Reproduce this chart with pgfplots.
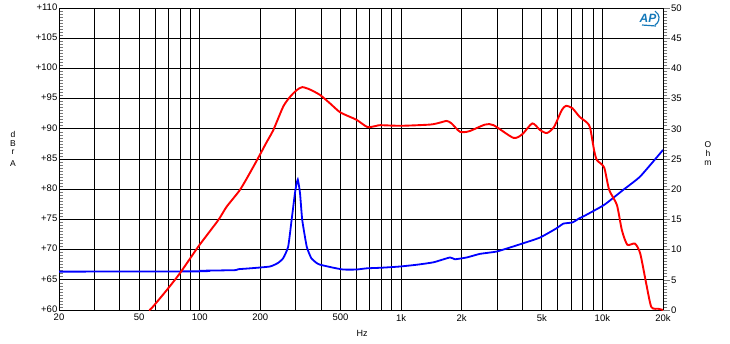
\documentclass[border=0pt]{standalone}
\usepackage{pgfplots}
\pgfplotsset{compat=1.18}
\usepackage{fontspec}
\setmainfont{Liberation Sans}
\definecolor{apred}{RGB}{255,0,0}
\definecolor{apblue}{RGB}{0,0,255}
\definecolor{logoblue}{RGB}{20,120,185}
\definecolor{tickgrey}{RGB}{120,120,120}

\pgfplotstableread{
f db
56 60
57.7 60.3
68.6 63.3
79.8 66.1
98.4 70.5
123.7 74.9
136 77.1
158.5 79.9
181 83.2
199 85.7
215 87.8
232 89.8
260 93.7
281 95.3
303 96.4
323 96.9
353 96.5
396 95.6
444 94.2
500 92.7
600 91.5
680 90.3
757 90.5
787 90.6
1000 90.5
1394 90.7
1550 91.0
1686 91.3
1780 90.9
1964 89.5
2180 89.6
2614 90.7
2880 90.6
3614 88.5
4000 89.1
4488 90.9
4900 89.8
5300 89.3
5750 90.3
6285 93.1
6600 93.8
7100 93.4
7700 92.0
8400 91.0
8700 90.1
9100 86.4
9400 84.8
10200 83.6
10800 79.9
11800 77.4
12500 73.2
13300 70.8
14500 71.0
15400 69.4
16500 64.4
17500 60.5
19000 60.2
20000 60.0
}\redtab

\pgfplotstableread{
f ohm
20 6.35
100 6.4
102 6.5
150 6.6
155 6.75
178 6.9
223 7.2
245 7.8
260 8.6
275 10.5
286 14.9
297 19.3
303 21.0
307 21.6
311 20.6
315 19.3
323 14.9
340 10.5
358 8.6
380 7.8
396 7.5
461 7.0
517 6.7
600 6.7
676 6.9
800 7.0
988 7.2
1200 7.5
1450 7.9
1750 8.7
1850 8.4
2120 8.7
2470 9.3
3000 9.7
4000 11.0
4900 12.0
5900 13.5
6400 14.3
7100 14.5
7700 15.2
8050 15.5
10200 17.4
12700 19.9
15400 22.1
20000 26.5
}\bluetab

\begin{document}
\begin{tikzpicture}
\path[use as bounding box] (0,0) rectangle (730pt,343pt);

% Axis A: dB axis with grid
\begin{semilogxaxis}[
  at={(59pt,33pt)}, anchor=south west,
  width=604pt, height=302pt, scale only axis,
  xmin=20, xmax=20000,
  ymin=60, ymax=110,
  tick label style={font=\fontsize{9.5}{10}\selectfont},
  xtick={20,50,100,200,500,1000,2000,5000,10000,20000},
  xticklabels={20,50,100,200,500,1k,2k,5k,10k,20k},
  minor xtick={30,40,60,70,80,90,300,400,600,700,800,900,3000,4000,6000,7000,8000,9000},
  xmajorgrids, xminorgrids, ymajorgrids,
  major grid style={black, line width=0.8pt},
  minor grid style={black, line width=0.8pt},
  xtick style={draw=none},
  xticklabel style={inner sep=0.5pt, yshift=-3.5pt},
  ytick={60,65,...,110},
  yticklabels={+60,+65,+70,+75,+80,+85,+90,+95,+100,+105,+110},
  ytick pos=left,
  minor y tick num=9,
  tick align=inside,
  minor tick length=4pt,
  major tick length=0pt,
  ytick style={tickgrey, line width=0.6pt},
  yticklabel style={inner sep=0.5pt, xshift=-1pt, yshift=1pt},
  axis line style={black, line width=0.8pt},
]
\addplot[draw=none] coordinates {(20,60)};
\end{semilogxaxis}

% Axis B: Ohm axis, blue impedance
\begin{semilogxaxis}[
  at={(59pt,33pt)}, anchor=south west,
  width=604pt, height=302pt, scale only axis,
  xmin=20, xmax=20000,
  ymin=0, ymax=50,
  tick label style={font=\fontsize{9.5}{10}\selectfont},
  axis y line*=right,
  axis x line=none,
  ytick={0,5,...,50},
  yticklabels={0,5,10,15,20,25,30,35,40,45,50},
  minor y tick num=9,
  tick align=outside,
  major tick length=7pt,
  minor tick length=4.5pt,
  ytick style={tickgrey, line width=0.6pt},
  yticklabel style={inner sep=1pt},
  axis line style={black, line width=0.8pt},
]
\addplot[apblue, line width=1.8pt, smooth, tension=0.3] table[x=f, y=ohm] {\bluetab};
\end{semilogxaxis}

% Axis C: dB axis, red response on top
\begin{semilogxaxis}[
  at={(59pt,33pt)}, anchor=south west,
  width=604pt, height=302pt, scale only axis,
  xmin=20, xmax=20000,
  ymin=60, ymax=110,
  hide axis,
]
\addplot[apred, line width=1.9pt, smooth, tension=0.4] table[x=f, y=db] {\redtab};
\end{semilogxaxis}

% axis labels
\begin{scope}[font=\fontsize{8.5}{9}\selectfont, inner sep=0pt]
\node at (13pt,209pt) {d};
\node at (13pt,199.5pt) {B};
\node at (13pt,190.5pt) {r};
\node at (13pt,179.5pt) {A};
\node at (708pt,198.5pt) {O};
\node at (708pt,189.5pt) {h};
\node at (708pt,179.5pt) {m};
\node[font=\fontsize{9}{10}\selectfont] at (362pt,10pt) {Hz};
\end{scope}

% logo
\node[logoblue, font=\fontsize{12}{12}\selectfont\bfseries\itshape] at (648pt,325pt) {AP};
\draw[logoblue, line width=1.2pt] (655pt,318pt) arc (-60:60:8pt);
\draw[logoblue, line width=1.2pt] (642pt,318pt) -- (656pt,317pt);
\end{tikzpicture}
\end{document}
